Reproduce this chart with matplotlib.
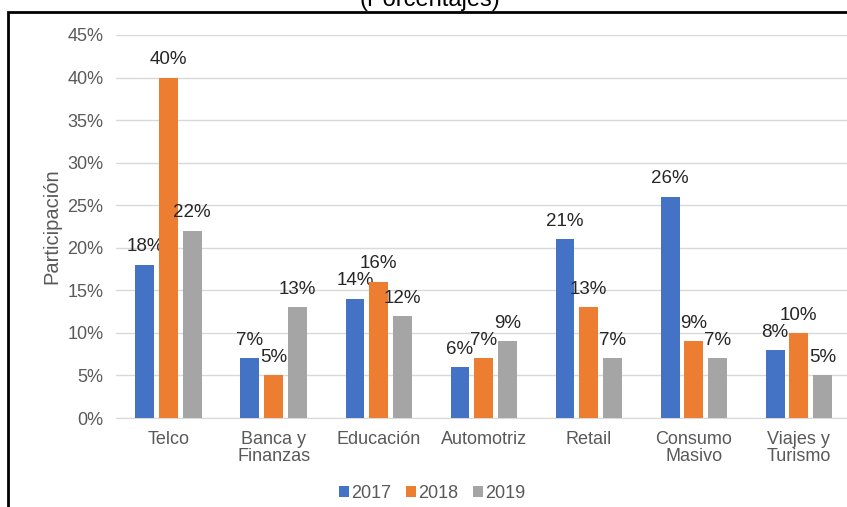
import matplotlib

matplotlib.use("Agg")
import matplotlib.pyplot as plt
import numpy as np
from matplotlib.patches import Rectangle

plt.rcParams["font.family"] = ["Liberation Sans", "DejaVu Sans"]

categories = ["Telco", "Banca y\nFinanzas", "Educación", "Automotriz",
              "Retail", "Consumo\nMasivo", "Viajes y\nTurismo"]
years = ["2017", "2018", "2019"]
share_2017 = [18, 7, 14, 6, 21, 26, 8]
share_2018 = [40, 5, 16, 7, 13, 9, 10]
share_2019 = [22, 13, 12, 9, 7, 7, 5]
colors = ["#4472C4", "#ED7D31", "#A5A5A5"]

fig = plt.figure(figsize=(8.47, 5.07), dpi=100)
ax = fig.add_axes([0.137, 0.1755, 0.868, 0.7555])

x = np.arange(len(categories))
step = 0.225
width = 0.18
for i, (vals, year, color) in enumerate(zip([share_2017, share_2018, share_2019], years, colors)):
    pos = x + (i - 1) * step
    ax.bar(pos, np.array(vals) / 100, width=width, color=color, label=year, zorder=3)
    for px, v in zip(pos, vals):
        ax.text(px, v / 100 + 0.011, f"{v}%", ha="center", va="bottom",
                fontsize=13.5, color="#262626")

ax.set_xlim(-0.5, len(categories) - 0.5)
ax.set_ylim(0, 0.45)
ticks = np.arange(0, 0.451, 0.05)
ax.set_yticks(ticks)
ax.set_yticklabels([f"{int(round(t * 100))}%" for t in ticks])
ax.set_xticks(x)
ax.set_xticklabels(categories, linespacing=1.0, fontsize=13.5)
ax.tick_params(axis="both", length=0, labelsize=13, labelcolor="#595959")
ax.tick_params(axis="x", pad=9)
ax.tick_params(axis="y", pad=9)
ax.grid(axis="y", color="#D9D9D9", linewidth=1, zorder=0)
for side in ["top", "right", "left"]:
    ax.spines[side].set_visible(False)
ax.spines["bottom"].set_color("#D9D9D9")
ax.set_ylabel("Participación", fontsize=14.5, color="#595959", labelpad=4)

ax.legend(loc="center", bbox_to_anchor=(0.43, -0.196), ncol=3, frameon=False,
          fontsize=13, handlelength=0.55, handleheight=0.55, handletextpad=0.15,
          columnspacing=0.8, labelcolor="#595959")

fig.text(0.508, 1.0, "(Porcentajes)", ha="center", va="center", fontsize=17, color="black")
fig.patches.append(Rectangle((0.0095, -0.1), 1.2, 1.0763, transform=fig.transFigure,
                             fill=False, edgecolor="black", linewidth=2))

fig.savefig("out.png", dpi=100)
